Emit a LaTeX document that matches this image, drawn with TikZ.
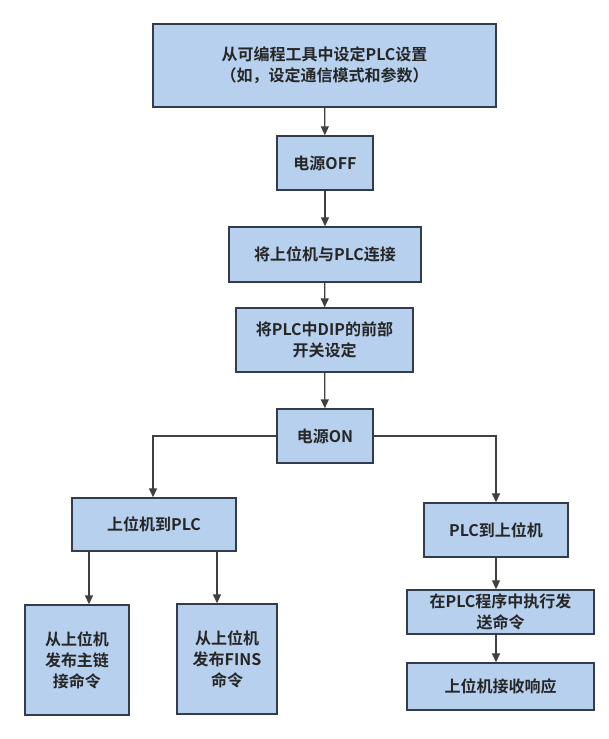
\documentclass[tikz,border=0pt]{standalone}
\usepackage{fontspec}
\setmainfont{Noto Sans CJK SC}[BoldFont={* Bold}]
\usetikzlibrary{arrows.meta}
\definecolor{boxfill}{RGB}{183,208,238}
\definecolor{boxline}{RGB}{50,60,76}
\definecolor{arrline}{RGB}{64,64,64}
\begin{document}
\begin{tikzpicture}[x=1pt,y=-1pt,
  bx/.style={draw=boxline,fill=boxfill,line width=1.4pt,inner sep=0pt,align=center,
    font=\fontsize{16}{21}\selectfont\bfseries,text=black!85},
  arr/.style={draw=arrline,line width=1.3pt,-{Triangle[width=8pt,length=9pt]}}]
\useasboundingbox (0,0) rectangle (609,739);
\fill[white] (0,0) rectangle (609,739);
\node[bx,minimum width=343pt,minimum height=83pt] (b1) at (324.5,65.5) {从可编程工具中设定PLC设置\\（如，设定通信模式和参数）};
\node[bx,minimum width=96pt,minimum height=54pt] (b2) at (325,163) {电源OFF};
\node[bx,minimum width=192pt,minimum height=55pt] (b3) at (325,254.5) {将上位机与PLC连接};
\node[bx,minimum width=177pt,minimum height=64pt] (b4) at (324.5,340) {将PLC中DIP的前部\\开关设定};
\node[bx,minimum width=96pt,minimum height=54pt] (b5) at (325,436) {电源ON};
\node[bx,minimum width=164pt,minimum height=53pt] (b6) at (154,524.5) {上位机到PLC};
\node[bx,minimum width=144pt,minimum height=54pt] (b7) at (496,530) {PLC到上位机};
\node[bx,minimum width=187pt,minimum height=44pt] (b8) at (500.5,612) {在PLC程序中执行发\\送命令};
\node[bx,minimum width=187pt,minimum height=47pt] (b9) at (500.5,686.5) {上位机接收响应};
\node[bx,minimum width=104pt,minimum height=110pt] (b10) at (77,660) {从上位机\\发布主链\\接命令};
\node[bx,minimum width=100pt,minimum height=110pt] (b11) at (227,659) {从上位机\\发布FINS\\命令};
\coordinate (xl) at (153,0);
\coordinate (xr) at (496,0);
\coordinate (xa) at (89,0);
\coordinate (xb) at (217,0);
\draw[arr] (b1) -- (b2);
\draw[arr] (b2) -- (b3);
\draw[arr] (b3) -- (b4);
\draw[arr] (b4) -- (b5);
\draw[arr] (b5.west) -- (b5.west -| xl) -- (b6.north -| xl);
\draw[arr] (b5.east) -- (b5.east -| xr) -- (b7.north -| xr);
\draw[arr] (b6.south -| xa) -- (b10.north -| xa);
\draw[arr] (b6.south -| xb) -- (b11.north -| xb);
\draw[arr] (b7.south -| xr) -- (b8.north -| xr);
\draw[arr] (b8.south -| xr) -- (b9.north -| xr);
\end{tikzpicture}
\end{document}
